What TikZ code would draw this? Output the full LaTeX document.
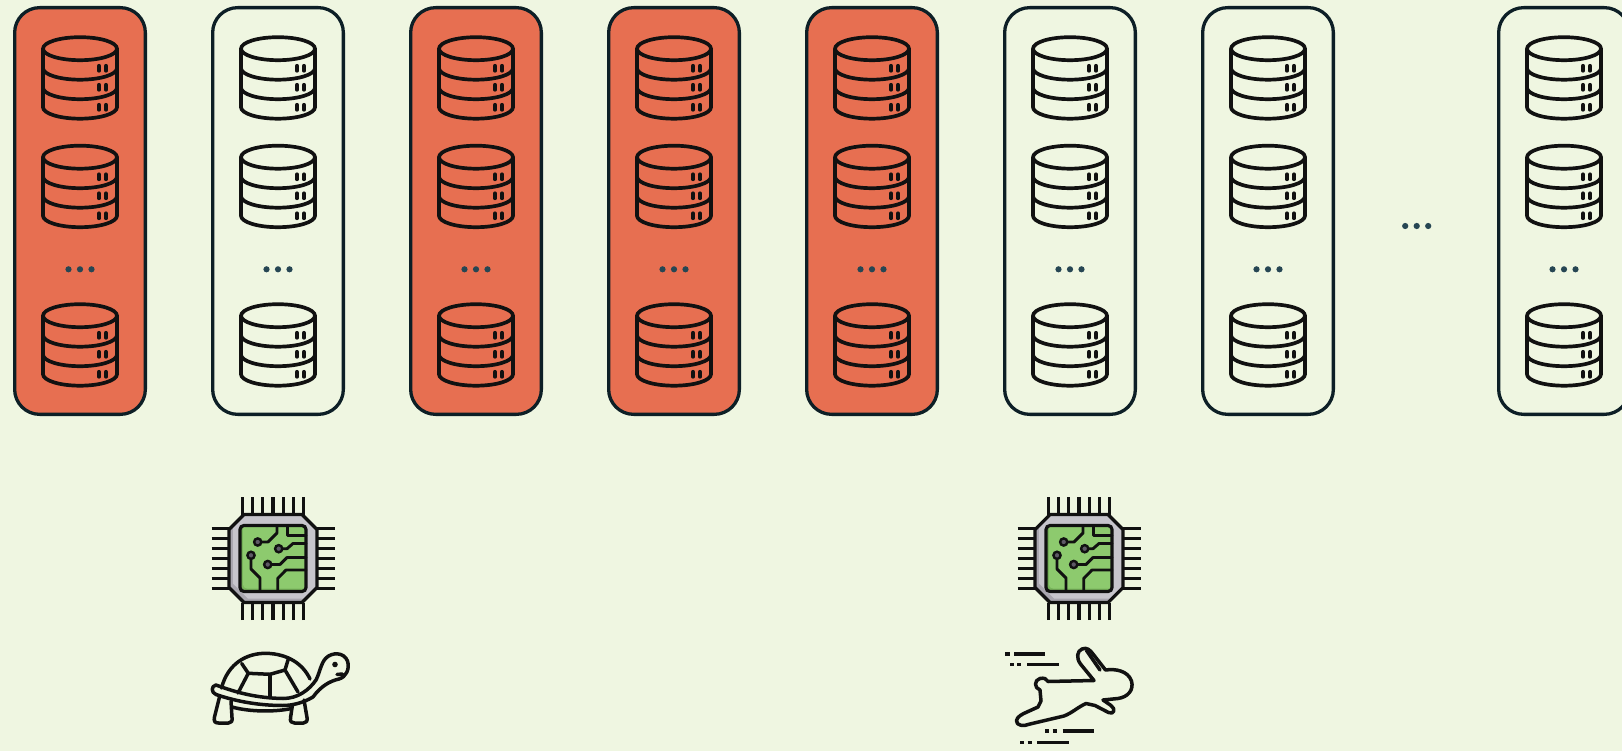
\documentclass[tikz,border=0pt]{standalone}
\definecolor{bg}{HTML}{EFF6E1}
\definecolor{rust}{HTML}{E76F51}
\definecolor{frame}{HTML}{0D1F26}
\definecolor{dotc}{HTML}{264653}
\definecolor{inkc}{HTML}{111111}
\definecolor{chipgray}{HTML}{C7C5CC}
\definecolor{chipshade}{HTML}{A9A6AF}
\definecolor{chipgreen}{HTML}{8DCA6E}
\definecolor{greenshade}{HTML}{77B35A}
\definecolor{padc}{HTML}{5E5966}

% outline of the processor package (chamfered square)
\newcommand\chipoutline{(-29,-44) -- (29,-44) -- (44,-29) -- (44,29) -- (29,44) -- (-29,44) -- (-44,29) -- (-44,-29) -- cycle}

\tikzset{
  rack/.style={draw=frame, line width=3.3pt, rounded corners=25pt,
    minimum width=130.7pt, minimum height=406.7pt, inner sep=0pt},
  iconline/.style={draw=inkc, line width=3.7pt, line join=round, line cap=round},
  pinline/.style={draw=inkc, line width=3.2pt},
  traceline/.style={draw=inkc, line width=2.9pt, line join=round, line cap=round},
  ellipsis/.style={fill=dotc},
  % stacked database cylinder
  database/.pic={
    \draw[iconline] (0,-29.3) ellipse[x radius=37, y radius=11.5];
    \draw[iconline] (-37,-29.3) -- (-37,29.2)
      arc[start angle=180, end angle=0, x radius=37, y radius=11.5] -- (37,-29.3);
    \foreach \cc in {-9.8, 9.7}
      \draw[iconline] (-37,\cc) arc[start angle=180, end angle=0, x radius=37, y radius=11.5];
    \foreach \yy in {-9.7, 9.3, 29.3}{
      \draw[iconline] (19,\yy-2.5) -- (19,\yy+2.5);
      \draw[iconline] (26,\yy-2.5) -- (26,\yy+2.5);
    }
  },
  % processor with pins and circuit traces
  chip/.pic={
    \foreach \k in {0,...,6}{
      \pgfmathsetmacro\pp{-30.6+10.2*\k}
      \draw[pinline] (\pp,-61.5) -- (\pp,-44);
      \draw[pinline] (\pp,61.5) -- (\pp,44);
      \pgfmathsetmacro\qq{-29.7+9.9*\k}
      \draw[pinline] (-61.5,\qq) -- (-44,\qq);
      \draw[pinline] (61.5,\qq) -- (44,\qq);
    }
    \begin{scope}
      \clip \chipoutline;
      \fill[chipshade] (-46,-46) rectangle (46,46);
      \fill[chipgray, shift={(4,-4)}] \chipoutline;
    \end{scope}
    \draw[inkc, line width=3.2pt, line join=round] \chipoutline;
    \begin{scope}
      \clip[rounded corners=4pt] (-33,-33) rectangle (33,33);
      \fill[greenshade] (-34,-34) rectangle (34,34);
      \fill[chipgreen, rounded corners=4pt] (-30,-36) rectangle (36,30);
    \end{scope}
    \draw[inkc, line width=3.2pt, rounded corners=4pt] (-33,-33) rectangle (33,33);
    \draw[traceline] (14.7,-33) -- (14.7,-23) -- (33,-23);
    \draw[traceline] (-15.3,-16.5) -- (-5,-16.5) -- (4,-25.5) -- (4,-33);
    \draw[traceline] (5.7,-9.8) -- (14,-9.8) -- (20,-15) -- (33,-15);
    \draw[traceline] (-22,-3.2) -- (-22,10.5) -- (-13,19.5) -- (-13,33);
    \draw[traceline] (-5.3,6) -- (7,6) -- (14,-1) -- (33,-1);
    \draw[traceline] (4.7,33) -- (4.7,20) -- (13,11.5) -- (33,11.5);
    \foreach \dx/\dy in {-15.3/-16.5, 5.7/-9.8, -22/-3.2, -5.3/6}
      \draw[fill=padc, draw=inkc, line width=2.4pt] (\dx,\dy) circle[radius=3.6];
  }
}

\begin{document}
\begin{tikzpicture}[x=1pt, y=-1pt]
\useasboundingbox (0,0) rectangle (1622,751);
\fill[bg] (0,0) rectangle (1622,751);
\clip (0,0) rectangle (1622,751);

% storage racks
\node[rack, fill=rust] (rack1) at (80,211) {};
\node[rack]            (rack2) at (278,211) {};
\node[rack, fill=rust] (rack3) at (476,211) {};
\node[rack, fill=rust] (rack4) at (674,211) {};
\node[rack, fill=rust] (rack5) at (872,211) {};
\node[rack]            (rack6) at (1070,211) {};
\node[rack]            (rack7) at (1268,211) {};
\node[rack]            (rack8) at (1564,211) {};

% disks inside each rack
\foreach \X in {80,278,476,674,872,1070,1268,1564}{
  \pic at (\X,78) {database};
  \pic at (\X,186.5) {database};
  \pic at (\X,345) {database};
  \foreach \d in {-11.5,0,11.5}
    \fill[ellipsis] (\X+\d,269.3) circle[radius=3.1];
}

% more racks in between
\foreach \d in {-11.5,0,11.5}
  \fill[ellipsis] (1416.7+\d,226) circle[radius=3.1];

% processors
\pic at (273,558.5) {chip};
\pic at (1079,558.5) {chip};

% slow: turtle
\begin{scope}[iconline, line width=3.5pt]
  % shell
  \draw (221.5,688) .. controls (228,663) and (247,653) .. (266.7,653.3)
        .. controls (288,654) and (303,664) .. (310,679);
  \draw (241.7,663.5) -- (248.3,673.3) -- (270,674.3) -- (285,670) -- (288.3,659);
  \draw (270,674.3) -- (270,697);
  \draw (248.3,673.3) -- (238,693);
  \draw (285,670) -- (298,692);
  % rim band, neck and head
  \draw (216,685) .. controls (235,692) and (255,698) .. (283,698.5)
        .. controls (298,698.5) and (309,690) .. (316,680)
        .. controls (320,672) and (321,663) .. (326,658)
        .. controls (332,652) and (344,652) .. (347.5,661)
        .. controls (350,669) and (346,677) .. (339,679)
        .. controls (330,681) and (321,686) .. (313,697)
        .. controls (303,703) and (292,705.5) .. (283,705.5)
        .. controls (255,705.5) and (232,700) .. (216,694.5)
        .. controls (211,692.5) and (211,686) .. (216,685) -- cycle;
  \fill[inkc] (335,664.5) circle[radius=2.8];
  \draw (337,674.5) -- (342.5,674);
  % legs and belly
  \draw (219.5,697) -- (214.5,717) .. controls (213.5,721.5) and (215,723) .. (218.5,723)
        -- (228.5,723) .. controls (231.5,723) and (232.5,721) .. (232,717.5) -- (231,701);
  \draw (292.5,704.5) -- (290.5,718) .. controls (290,721.5) and (291.5,723) .. (294.5,723)
        -- (303.5,723) .. controls (306.5,723) and (307.5,721) .. (307,717.5) -- (304,700);
  \draw (232,707) .. controls (250,712) and (275,712) .. (291.5,708.5);
\end{scope}

% fast: running hare
\begin{scope}[iconline, line width=3.5pt]
  \draw (1040,690)
    .. controls (1034,688) and (1034,680) .. (1040,678.5)
    .. controls (1044,677.5) and (1047,679) .. (1048,681.5)
    -- (1094,680.5)
    -- (1080.5,664) .. controls (1076,658) and (1077,651) .. (1082,649)
    .. controls (1087,647) and (1090,650) .. (1093,654)
    -- (1105.5,670)
    .. controls (1116,668.5) and (1128,671) .. (1131.5,681)
    .. controls (1134,690) and (1128,697) .. (1118,698.5)
    -- (1103,700)
    -- (1111,705.5) .. controls (1116,709) and (1114,715) .. (1108.5,712.5)
    -- (1095,705.5) -- (1086,703.5)
    .. controls (1078,707) and (1072,713) .. (1064,716)
    -- (1030,724) .. controls (1024,726.5) and (1016,726) .. (1016.5,720.5)
    .. controls (1017,717) and (1022,714) .. (1027,712)
    -- (1038,707) -- (1041,701) -- cycle;
  \draw (1086.5,650.5) -- (1100,670);
\end{scope}
\begin{scope}[draw=inkc, line width=3.2pt]
  \draw (1005,654) -- (1010,654);
  \draw (1014,654) -- (1045,654);
  \draw (1010,664.5) -- (1014,664.5);
  \draw (1017,664.5) -- (1021,664.5);
  \draw (1027,664.5) -- (1059,664.5);
  \draw (1045,731) -- (1049,731);
  \draw (1052.5,731) -- (1056.5,731);
  \draw (1062.5,731) -- (1093.5,731);
  \draw (1020,742.5) -- (1024,742.5);
  \draw (1027.5,742.5) -- (1031.5,742.5);
  \draw (1037,742.5) -- (1068.5,742.5);
\end{scope}
\end{tikzpicture}
\end{document}
